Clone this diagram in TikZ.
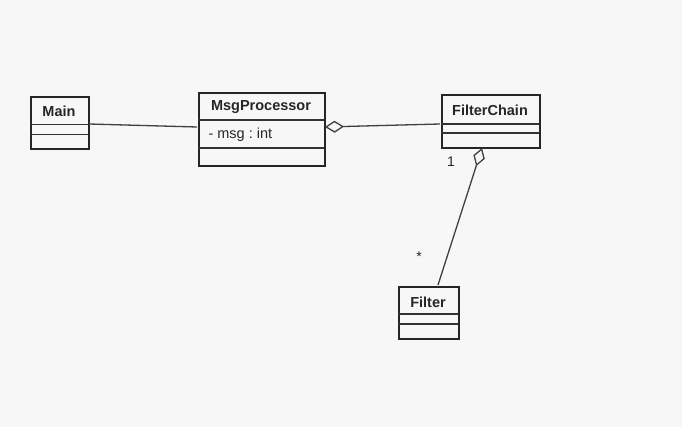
\documentclass[tikz,border=0pt]{standalone}
\usepackage{fontspec}
\setmainfont{Liberation Sans}
\frenchspacing
\usetikzlibrary{arrows.meta}
\begin{document}
\begin{tikzpicture}[x=1pt,y=-1pt,
  cls/.style={draw=black!85, line width=2pt, inner sep=0pt, anchor=north west},
  title/.style={font=\bfseries\fontsize{14.5}{16}\selectfont, text=black!85},
  attr/.style={font=\fontsize{14.5}{16}\selectfont, text=black!85, anchor=west},
  sep/.style={draw=black!80, line width=1.3pt},
  assoc/.style={draw=black!75, line width=1.3pt},
  agg/.style={assoc, -{Diamond[open, length=19pt, width=12pt, line width=1.3pt]}},
  mult/.style={font=\fontsize{14}{16}\selectfont, text=black!85}]
\fill[black!3] (0,0) rectangle (682,427);
\useasboundingbox (0,0) rectangle (682,427);
% Main
\node[cls, minimum width=58pt, minimum height=52pt] (main) at (30,96) {};
\node[title] (mainT) at (59,111) {Main};
\draw[sep] (30,124.3) -- (88,124.3) (30,134.3) -- (88,134.3);
% MsgProcessor
\node[cls, minimum width=126pt, minimum height=73pt] (msg) at (198,92) {};
\node[title] (msgT) at (261,107) {MsgProcessor};
\node[attr] (msgA) at (205,135) {- msg : int};
\draw[sep] (198,120) -- (324,120) (198,148) -- (324,148);
% FilterChain
\node[cls, minimum width=98pt, minimum height=53pt] (fc) at (441,94) {};
\node[title] (fcT) at (490,110) {FilterChain};
\draw[sep] (441,124) -- (539,124) (441,133) -- (539,133);
% Filter
\node[cls, minimum width=60pt, minimum height=52pt] (f) at (398,286) {};
\node[title] (fT) at (428,302) {Filter};
\draw[sep] (398,314) -- (458,314) (398,324) -- (458,324);
% connectors
\coordinate (mainE) at (89,124);
\coordinate (msgW) at (197,127);
\coordinate (msgE) at (325,127);
\coordinate (fcW) at (440,124);
\coordinate (fcS) at (482,148);
\coordinate (fN) at (438,285);
\draw[assoc] (mainE) -- (msgW);
\draw[agg] (fcW) -- (msgE);
\draw[agg] (fN) -- (fcS);
\node[mult] (one) at (451,162) {1};
\node[mult] (star) at (419,257) {*};
\end{tikzpicture}
\end{document}
